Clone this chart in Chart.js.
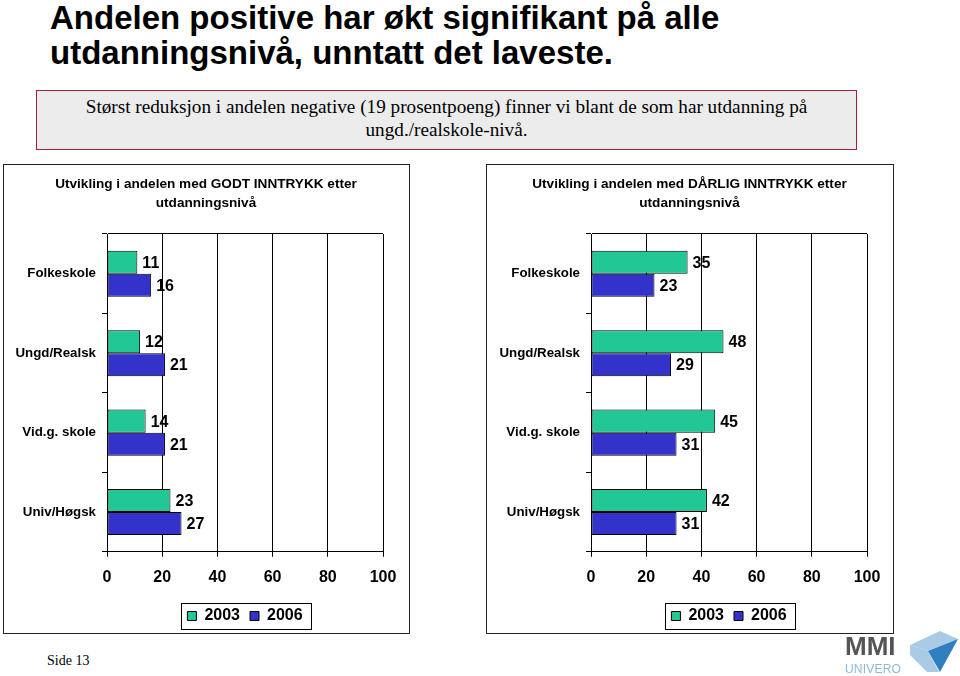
<!DOCTYPE html>
<html><head><meta charset="utf-8">
<script src="https://cdn.jsdelivr.net/npm/chart.js@4.4.1/dist/chart.umd.min.js"></script>
<style>
html,body{margin:0;padding:0;background:#fff;}
body{width:960px;height:676px;position:relative;overflow:hidden;font-family:"Liberation Sans",Arial,sans-serif;}
#title{position:absolute;left:50px;top:0;font-weight:bold;font-size:33px;line-height:35px;color:#000;white-space:nowrap;}
#note{position:absolute;left:36px;top:90px;width:821px;height:60px;box-sizing:border-box;border:1.5px solid #9b2335;background:#ececec;font-family:"Liberation Serif","Times New Roman",serif;font-size:19.2px;line-height:23px;text-align:center;padding-top:4px;color:#000;white-space:nowrap;}
.panel{position:absolute;top:164px;height:470px;box-sizing:border-box;border:1px solid #222;background:#fff;}
#p1{left:3px;width:407px;}
#p2{left:486px;width:408px;}
canvas{position:absolute;}
#c1{left:4px;top:165px;}
#c2{left:487px;top:165px;}
#side{position:absolute;left:47px;top:654px;font-family:"Liberation Serif","Times New Roman",serif;font-size:14px;line-height:14px;color:#000;}
#mmi{position:absolute;left:845px;top:633px;font-family:"Liberation Sans",Arial,sans-serif;font-weight:bold;font-size:26px;line-height:26px;color:#555;letter-spacing:0px;}
#univero{position:absolute;left:845px;top:663px;font-family:"Liberation Sans",Arial,sans-serif;font-size:12px;line-height:12px;color:#8fb8d8;letter-spacing:0.2px;}
#shape{position:absolute;left:0;top:0;}
</style>
</head><body>
<div id="title">Andelen positive har økt signifikant på alle<br>utdanningsnivå, unntatt det laveste.</div>
<div id="note">Størst reduksjon i andelen negative (19 prosentpoeng) finner vi blant de som har utdanning på<br>ungd./realskole-nivå.</div>
<div class="panel" id="p1"></div>
<div class="panel" id="p2"></div>
<canvas id="c1" width="404" height="469"></canvas>
<canvas id="c2" width="405" height="469"></canvas>
<div id="side">Side 13</div>
<div id="mmi">MMI</div>
<div id="univero">UNIVERO</div>
<svg id="shape" width="960" height="676" style="pointer-events:none">
  <polygon points="910,645 940,631 958,639 928,651" fill="#a9cbe6"/>
  <polygon points="910,645 928,651 939,672 927,672 910,655" fill="#a9cbe6"/>
  <polygon points="928,651 958,639 940,672" fill="#2f7fc1"/>
</svg>
<script>
const categories = ['Folkeskole', 'Ungd/Realsk', 'Vid.g. skole', 'Univ/Høgsk'];
const seriesLabels = ['2003', '2006'];
const godt2003 = [11, 12, 14, 23];
const godt2006 = [16, 21, 21, 27];
const darlig2003 = [35, 48, 45, 42];
const darlig2006 = [23, 29, 31, 31];
const xTicks = [0, 20, 40, 60, 80, 100];
const titleGodt = ['Utvikling i andelen med GODT INNTRYKK etter', 'utdanningsnivå'];
const titleDarlig = ['Utvikling i andelen med DÅRLIG INNTRYKK etter', 'utdanningsnivå'];
const color2003 = '#21c795';
const color2006 = '#3333cc';

Chart.defaults.font.family = '"Liberation Sans", Arial, Helvetica, sans-serif';
Chart.defaults.color = '#000';

const layoutFix = {
  id: 'layoutFix',
  afterLayout(chart) {
    const a = chart.chartArea;
    const lg = chart.legend;
    if (lg) { lg.left = a.left; lg.right = a.right; lg.width = a.right - a.left; }
    const t = chart.titleBlock;
    if (t) { t.left = 0; t.right = chart.width; t.width = chart.width; }
  }
};

const valueLabels = {
  id: 'valueLabels',
  afterDatasetsDraw(chart) {
    const ctx = chart.ctx;
    ctx.save();
    ctx.font = 'bold 16px "Liberation Sans", Arial, sans-serif';
    ctx.fillStyle = '#000';
    ctx.textAlign = 'left';
    ctx.textBaseline = 'middle';
    chart.data.datasets.forEach((ds, di) => {
      const meta = chart.getDatasetMeta(di);
      meta.data.forEach((bar, i) => {
        ctx.fillText(String(ds.data[i]), bar.x + 5, bar.y + 1);
      });
    });
    ctx.restore();
  }
};

const legendFrame = {
  id: 'legendFrame',
  afterDraw(chart) {
    const lg = chart.legend;
    if (!lg || !lg.legendHitBoxes || !lg.legendHitBoxes.length) return;
    const hb = lg.legendHitBoxes;
    const first = hb[0], last = hb[hb.length - 1];
    const x1 = Math.round(first.left - 6) + 0.5;
    const x2 = Math.round(last.left + last.width + 8) + 0.5;
    const cy = first.top + first.height / 2;
    const y1 = Math.round(cy - 13) + 0.5;
    const y2 = Math.round(cy + 13) + 0.5;
    const ctx = chart.ctx;
    ctx.save();
    ctx.strokeStyle = '#000';
    ctx.lineWidth = 1;
    ctx.strokeRect(x1, y1, x2 - x1, y2 - y1);
    ctx.restore();
  }
};

function makeChart(id, titleLines, d2003, d2006, axisWidth) {
  return new Chart(document.getElementById(id), {
    type: 'bar',
    data: {
      labels: categories,
      datasets: [
        { label: seriesLabels[0], data: d2003, backgroundColor: color2003, borderColor: '#000', borderWidth: 1, borderSkipped: false, categoryPercentage: 0.58, barPercentage: 1 },
        { label: seriesLabels[1], data: d2006, backgroundColor: color2006, borderColor: '#000', borderWidth: 1, borderSkipped: false, categoryPercentage: 0.58, barPercentage: 1 }
      ]
    },
    options: {
      responsive: false,
      animation: false,
      devicePixelRatio: 1,
      indexAxis: 'y',
      layout: { padding: { left: 0, right: 25, top: 0, bottom: 0 } },
      plugins: {
        title: { display: true, text: titleLines, color: '#000', font: { size: 13.6, weight: 'bold', lineHeight: '19px' }, padding: { top: 10, bottom: 21 } },
        legend: { display: true, position: 'bottom', labels: { boxWidth: 9, boxHeight: 9, padding: 10, color: '#000', font: { size: 16, weight: 'bold' } } },
        tooltip: { enabled: false }
      },
      scales: {
        x: {
          type: 'linear', min: 0, max: 100,
          afterBuildTicks(s) { s.ticks = xTicks.map(v => ({ value: v })); },
          ticks: { padding: 11, color: '#000', font: { size: 16, weight: 'bold' } },
          grid: { color: '#000', lineWidth: 1, tickLength: 5, tickColor: '#000' },
          border: { color: '#000', width: 1 }
        },
        y: {
          type: 'category',
          afterFit(s) { s.width = axisWidth; },
          ticks: { padding: 6, color: '#000', font: { size: 13.3, weight: 'bold' } },
          grid: { offset: true, drawOnChartArea: true, color: c => (c.index === 0 ? '#000' : 'rgba(0,0,0,0)'), tickLength: 5, tickColor: '#000' },
          border: { color: '#000', width: 1 }
        }
      }
    },
    plugins: [layoutFix, valueLabels, legendFrame]
  });
}

makeChart('c1', titleGodt, godt2003, godt2006, 103);
makeChart('c2', titleDarlig, darlig2003, darlig2006, 104);
</script>
</body></html>
